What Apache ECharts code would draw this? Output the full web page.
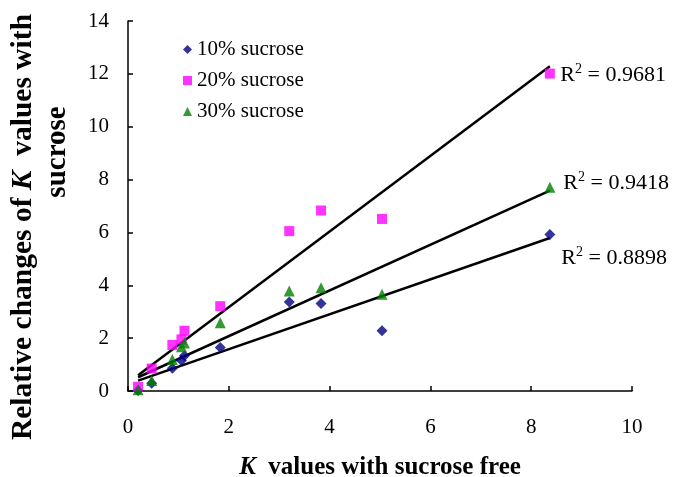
<!DOCTYPE html>
<html>
<head>
<meta charset="utf-8">
<script src="https://cdn.jsdelivr.net/npm/echarts@6/dist/echarts.min.js"></script>
<style>html,body{margin:0;padding:0;background:#fff}#c{width:679px;height:477px}</style>
</head>
<body>
<div id="c"></div>
<script>
// K values with sucrose free (shared x values)
const kFree = [0.2, 0.47, 0.88, 1.06, 1.12, 1.83, 3.2, 3.83, 5.04, 8.37];
// Relative changes of K values with sucrose
const sucrose10 = [0.02, 0.29, 0.86, 1.15, 1.33, 1.65, 3.37, 3.31, 2.28, 5.92];
const sucrose20 = [0.16, 0.85, 1.74, 1.95, 2.28, 3.21, 6.05, 6.83, 6.51, 12.01];
const sucrose30 = [0.05, 0.4, 1.19, 1.67, 1.82, 2.58, 3.78, 3.91, 3.66, 7.71];
// Linear trend line end points
const trendX = [0.2, 8.37];
const trend10 = [0.39, 5.79];
const trend20 = [0.6, 12.29];
const trend30 = [0.52, 7.58];
const r2Labels = ['0.8898', '0.9681', '0.9418'];
const seriesNames = ['10% sucrose', '20% sucrose', '30% sucrose'];
const xTicks = [0, 2, 4, 6, 8, 10];
const yTicks = [0, 2, 4, 6, 8, 10, 12, 14];

const serif = '"Liberation Serif", "Times New Roman", serif';
const pts = ys => kFree.map((x, i) => [x, ys[i]]);

function trend(ys, r2, dx, dy) {
  return {
    type: 'line', data: [
      { value: [trendX[0], ys[0]] },
      { value: [trendX[1], ys[1]], label: {
        show: true, position: 'right', distance: 10,
        formatter: '{r|R}{s|2}{r| = ' + r2 + '}',
        rich: {
          r: { fontFamily: serif, fontSize: 22, color: '#000', lineHeight: 24, verticalAlign: 'bottom' },
          s: { fontFamily: serif, fontSize: 14, color: '#000', lineHeight: 24, verticalAlign: 'top' }
        }
      } }
    ],
    symbol: 'circle', symbolSize: 1, showSymbol: true,
    itemStyle: { color: 'rgba(0,0,0,0)' },
    lineStyle: { color: '#000', width: 2.5 }, silent: true, z: 1,
    labelLayout: { hideOverlap: false, dx: dx, dy: dy },
    emphasis: { disabled: true }
  };
}

const chart = echarts.init(document.getElementById('c'));
chart.setOption({
  animation: false,
  backgroundColor: '#fff',
  grid: { left: 128, right: 47, top: 21, bottom: 86, containLabel: false, outerBoundsMode: 'none' },
  legend: {
    orient: 'vertical', left: 178, top: 34, itemWidth: 9, itemHeight: 9, itemGap: 10,
    data: seriesNames,
    textStyle: { fontFamily: serif, fontSize: 21, color: '#000', lineHeight: 21 }
  },
  xAxis: {
    type: 'value', min: xTicks[0], max: xTicks[xTicks.length - 1], interval: 2,
    axisLine: { lineStyle: { color: '#000', width: 1.5 } },
    axisTick: { inside: true, length: 5, lineStyle: { color: '#000', width: 1.5 } },
    axisLabel: { fontFamily: serif, fontSize: 21, color: '#000', margin: 26 },
    splitLine: { show: false },
    name: '{k|K}{b|  values with sucrose free}', nameLocation: 'middle', nameGap: 64,
    nameTextStyle: { rich: {
      k: { fontFamily: serif, fontSize: 25, fontWeight: 'bold', fontStyle: 'italic', color: '#000' },
      b: { fontFamily: serif, fontSize: 25, fontWeight: 'bold', color: '#000' }
    } }
  },
  yAxis: {
    type: 'value', min: yTicks[0], max: yTicks[yTicks.length - 1], interval: 2,
    axisLine: { show: true, lineStyle: { color: '#000', width: 1.5 } },
    axisTick: { show: true, inside: true, length: 5, lineStyle: { color: '#000', width: 1.5 } },
    axisLabel: { fontFamily: serif, fontSize: 21, color: '#000', margin: 19 },
    splitLine: { show: false }
  },
  graphic: [
    { type: 'text', x: 23, y: 227, rotation: Math.PI / 2, style: {
      text: '{b|Relative changes of }{k|K}{b|  values with}', align: 'center', verticalAlign: 'middle',
      rich: {
        k: { fontFamily: serif, fontSize: 29.5, fontWeight: 'bold', fontStyle: 'italic', fill: '#000' },
        b: { fontFamily: serif, fontSize: 29.5, fontWeight: 'bold', fill: '#000' }
      } } },
    { type: 'text', x: 58, y: 152, rotation: Math.PI / 2, style: {
      text: 'sucrose', align: 'center', verticalAlign: 'middle',
      font: 'bold 29px ' + serif, fill: '#000' } }
  ],
  series: [
    trend(trend10, r2Labels[0], 1, 19),
    trend(trend20, r2Labels[1], 0, 8),
    trend(trend30, r2Labels[2], 3, -8),
    { name: seriesNames[0], type: 'scatter', data: pts(sucrose10), symbol: 'diamond', symbolSize: 11,
      itemStyle: { color: '#000080' }, z: 3 },
    { name: seriesNames[1], type: 'scatter', data: pts(sucrose20), symbol: 'rect', symbolSize: 10,
      itemStyle: { color: '#FF00FF' }, z: 3 },
    { name: seriesNames[2], type: 'scatter', data: pts(sucrose30), symbol: 'triangle', symbolSize: 11,
      itemStyle: { color: '#008000' }, z: 3 }
  ]
});
</script>
</body>
</html>
